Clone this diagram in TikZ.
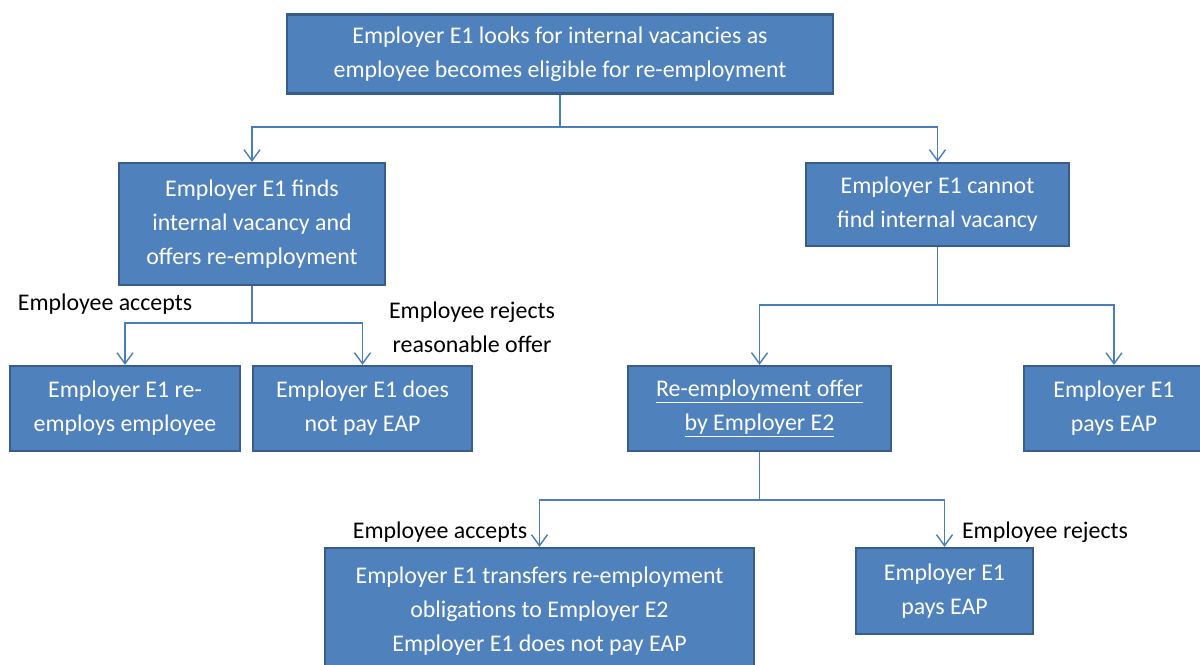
\documentclass[tikz,border=0pt]{standalone}
\usepackage{fontspec}
\setmainfont{Carlito}
\usepackage{tikz}
\usetikzlibrary{arrows.meta}
\definecolor{boxfill}{HTML}{4F81BD}
\definecolor{boxline}{HTML}{385D8A}
\definecolor{linkcol}{HTML}{4A7EBB}

\begin{document}
\begin{tikzpicture}[x=0.02cm, y=-0.02cm,
		box/.style={rectangle, fill=boxfill, draw=boxline, line width=1.3pt, text=white, align=center, inner sep=0mm, font=\fontsize{13.6}{19.4}\selectfont},
		lbl/.style={align=center, inner sep=0mm, font=\fontsize{13.6}{19.4}\selectfont},
		link/.style={draw=linkcol, line width=0.8pt},
		tip/.style={link, -{Straight Barb[length=2.2mm, width=3.2mm]}}]
		\useasboundingbox (0,0) rectangle (1200,665);
		\node[box, minimum width=10.92cm, minimum height=1.58cm] at (560,54) (top) {Employer E1 looks for internal vacancies as\\employee becomes eligible for re-employment};
		\node[box, minimum width=5.32cm, minimum height=2.44cm] at (252,224) (fnd) {Employer E1 finds\\internal vacancy and\\offers re-employment};
		\node[box, minimum width=5.26cm, minimum height=1.66cm] at (937.5,204.5) (nfd) {Employer E1 cannot\\find internal vacancy};
		\node[box, minimum width=4.6cm, minimum height=1.7cm] at (125,408.5) (reemp) {Employer E1 re-\\employs employee};
		\node[box, minimum width=4.38cm, minimum height=1.7cm] at (362.5,408.5) (nopay) {Employer E1 does\\not pay EAP};
		\node[box, minimum width=5.26cm, minimum height=1.7cm] at (759.5,408.5) (offer) {\underline{Re-employment offer}\\\underline{by Employer E2}};
		\node[box, minimum width=3.6cm, minimum height=1.7cm] at (1114,408.5) (pays1) {Employer E1\\pays EAP};
		\node[box, minimum width=8.58cm, minimum height=2.52cm] at (539.5,611) (trans) {Employer E1 transfers re-employment\\obligations to Employer E2\\Employer E1 does not pay EAP};
		\node[box, minimum width=3.54cm, minimum height=1.72cm] at (944.5,591) (pays2) {Employer E1\\pays EAP};

		\node[lbl] at (105,304) (acc1) {Employee accepts};
		\node[lbl] at (472,327) (rej1) {Employee rejects\\reasonable offer};
		\node[lbl] at (440,532) (acc2) {Employee accepts};
		\node[lbl] at (1045,532) (rej2) {Employee rejects};

		\coordinate (j1) at (560,127);
		\coordinate (j2) at (252,323);
		\coordinate (j3) at (937.5,305);
		\coordinate (j4) at (759.5,500);
		\draw[link] (top.south) -- (j1);
		\draw[tip] (j1) -| (fnd.north);
		\draw[tip] (j1) -| (nfd.north);
		\draw[link] (fnd.south) -- (j2);
		\draw[tip] (j2) -| (reemp.north);
		\draw[tip] (j2) -| (nopay.north);
		\draw[link] (nfd.south) -- (j3);
		\draw[tip] (j3) -| (offer.north);
		\draw[tip] (j3) -| (pays1.north);
		\draw[link] (offer.south) -- (j4);
		\draw[tip] (j4) -| (trans.north);
		\draw[tip] (j4) -| (pays2.north);
	\end{tikzpicture}
\end{document}
